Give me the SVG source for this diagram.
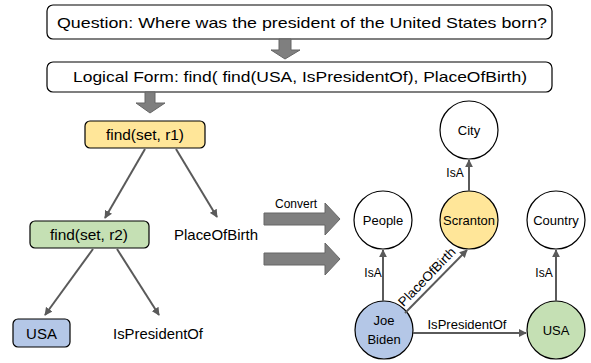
<svg xmlns="http://www.w3.org/2000/svg" width="591" height="363" viewBox="0 0 591 363">
<style>
text{font-family:"Liberation Sans",Arial,sans-serif;fill:#000}
.box{fill:#fff;stroke:#000;stroke-width:1.2}
.blk{fill:#7f7f7f;stroke:#666;stroke-width:1}
.edge{stroke:#5a5a5a;stroke-width:2;fill:none;marker-end:url(#ah)}
.c{fill:#fff;stroke:#000;stroke-width:1.2}
.t15{font-size:15px}
.t13{font-size:13px}
.t12{font-size:12px}
</style>
<defs>
<marker id="ah" viewBox="0 0 10 10" refX="9" refY="5" markerWidth="4" markerHeight="4" orient="auto" markerUnits="strokeWidth">
<path d="M0,0 L10,5 L0,10 z" fill="#5a5a5a"/>
</marker>
</defs>
<g id="question">
<rect class="box" x="47" y="5" width="505" height="34" rx="6"/>
<text class="t15" x="57" y="28" textLength="490" lengthAdjust="spacingAndGlyphs">Question: Where was the president of the United States born?</text>
</g>
<g id="logical-form">
<rect class="box" x="47" y="62" width="505" height="30" rx="6"/>
<text class="t15" x="73" y="82" textLength="454" lengthAdjust="spacingAndGlyphs">Logical Form: find( find(USA, IsPresidentOf), PlaceOfBirth)</text>
</g>
<g id="find-r1">
<rect x="85" y="121" width="120" height="27" rx="5" fill="#ffe699" stroke="#000" stroke-width="1.2"/>
<text class="t15" x="145" y="140" text-anchor="middle" textLength="78" lengthAdjust="spacingAndGlyphs">find(set, r1)</text>
</g>
<g id="find-r2">
<rect x="30" y="221" width="119" height="27" rx="5" fill="#c5e0b4" stroke="#000" stroke-width="1.2"/>
<text class="t15" x="89" y="240" text-anchor="middle" textLength="78" lengthAdjust="spacingAndGlyphs">find(set, r2)</text>
</g>
<g id="usa-box">
<rect x="13" y="319" width="57" height="28" rx="5" fill="#b4c7e7" stroke="#000" stroke-width="1.2"/>
<text class="t15" x="41.5" y="339" text-anchor="middle">USA</text>
</g>
<g id="placeofbirth-leaf">
<text class="t15" x="174" y="240" textLength="84" lengthAdjust="spacingAndGlyphs">PlaceOfBirth</text>
</g>
<g id="ispresidentof-leaf">
<text class="t15" x="113" y="339" textLength="90" lengthAdjust="spacingAndGlyphs">IsPresidentOf</text>
</g>
<g id="people">
<circle class="c" cx="383" cy="220" r="29"/>
<text class="t13" x="383" y="225" text-anchor="middle">People</text>
</g>
<g id="scranton">
<circle cx="469" cy="220" r="29" fill="#ffe699" stroke="#000" stroke-width="1.2"/>
<text class="t13" x="469" y="225" text-anchor="middle" textLength="52" lengthAdjust="spacingAndGlyphs">Scranton</text>
</g>
<g id="city">
<circle class="c" cx="469" cy="130" r="29"/>
<text class="t13" x="469" y="135" text-anchor="middle">City</text>
</g>
<g id="country">
<circle class="c" cx="556" cy="220" r="29"/>
<text class="t13" x="556" y="225" text-anchor="middle">Country</text>
</g>
<g id="joe-biden">
<circle cx="384" cy="330" r="29" fill="#b4c7e7" stroke="#000" stroke-width="1.2"/>
<text class="t13" x="384" y="325" text-anchor="middle">Joe</text>
<text class="t13" x="384" y="344" text-anchor="middle">Biden</text>
</g>
<g id="usa-node">
<circle cx="556" cy="330" r="29" fill="#c5e0b4" stroke="#000" stroke-width="1.2"/>
<text class="t13" x="556" y="335" text-anchor="middle">USA</text>
</g>
<g id="connectors">
<polygon class="blk" points="279,39 291,39 291,50 300,50 285,59 271,50 279,50"/>
<polygon class="blk" points="145,92 155,92 155,103 165,103 150,113 136,103 145,103"/>
<polygon class="blk" points="264,213 325,213 325,203 340,219 325,235 325,225 264,225"/>
<polygon class="blk" points="264,253 325,253 325,243 340,259 325,275 325,265 264,265"/>
<text class="t12" x="296" y="208" text-anchor="middle">Convert</text>
<line class="edge" x1="145" y1="149" x2="105" y2="218"/>
<line class="edge" x1="176" y1="149" x2="217" y2="217"/>
<line class="edge" x1="93" y1="249" x2="45" y2="315"/>
<line class="edge" x1="117" y1="249" x2="159" y2="315"/>
<line class="edge" x1="383" y1="301" x2="383" y2="250"/>
<line class="edge" x1="469" y1="191" x2="469" y2="160"/>
<line class="edge" x1="556" y1="301" x2="556" y2="250"/>
<line class="edge" x1="413" y1="333" x2="526" y2="333"/>
<line class="edge" x1="405" y1="313" x2="467" y2="250"/>
<text class="t12" x="373" y="277" text-anchor="middle">IsA</text>
<text class="t12" x="455" y="177" text-anchor="middle">IsA</text>
<text class="t12" x="544" y="277" text-anchor="middle">IsA</text>
<text class="t13" x="467" y="329" text-anchor="middle" textLength="79" lengthAdjust="spacingAndGlyphs">IsPresidentOf</text>
<text class="t13" transform="translate(430,280) rotate(-46)" x="0" y="0" text-anchor="middle" textLength="76" lengthAdjust="spacingAndGlyphs">PlaceOfBirth</text>
</g>
</svg>
